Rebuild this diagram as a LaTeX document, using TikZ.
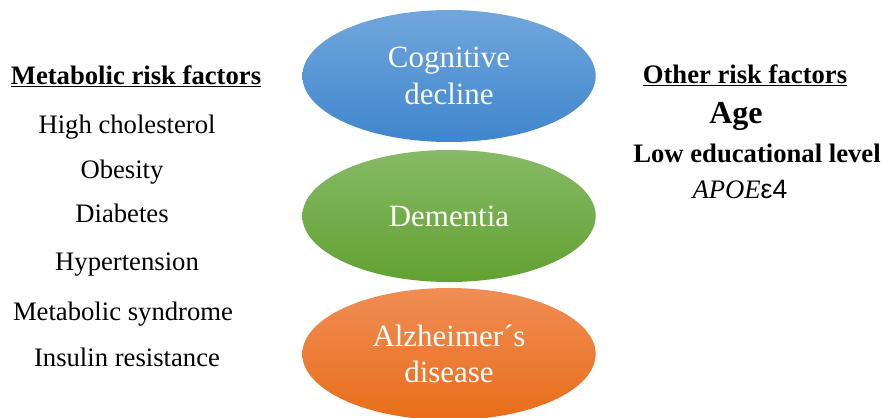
\documentclass[tikz,border=0pt]{standalone}
\usepackage{fontspec}
\setmainfont{Liberation Serif}
\newfontfamily\sansfont{Liberation Sans}
\usetikzlibrary{shapes.geometric}
\definecolor{blueTop}{HTML}{71A6DD}
\definecolor{blueBot}{HTML}{3F86CD}
\definecolor{greenTop}{HTML}{86BA66}
\definecolor{greenBot}{HTML}{62A131}
\definecolor{orangeTop}{HTML}{F08D55}
\definecolor{orangeBot}{HTML}{E86D19}

\begin{document}
\begin{tikzpicture}[x=0.75pt,y=-0.75pt,
    oval/.style={shape=ellipse,minimum width=220pt,minimum height=99pt,inner sep=0pt,
        text=white,align=center,font=\fontsize{23.2}{27.2}\selectfont},
    head/.style={anchor=base,font=\fontsize{20}{24}\selectfont\bfseries},
    item/.style={anchor=base,font=\fontsize{20}{24}\selectfont}]
\useasboundingbox (0,0) rectangle (883,418);

\node[oval,top color=blueTop,bottom color=blueBot] (cog) at (449,76) {Cognitive\\decline};
\node[oval,top color=greenTop,bottom color=greenBot] (dem) at (449,216) {Dementia};
\node[oval,top color=orangeTop,bottom color=orangeBot] (ad) at (449,354) {Alzheimer´s\\disease};

\node[head] (met) at (136,84) {\underline{Metabolic risk factors}};
\node[item] (hc) at (127,133) {High cholesterol};
\node[item] (ob) at (122,178) {Obesity};
\node[item] (db) at (122,222) {Diabetes};
\node[item] (ht) at (127,270) {Hypertension};
\node[item] (ms) at (123,320) {Metabolic syndrome};
\node[item] (ir) at (127,366) {Insulin resistance};

\node[head] (oth) at (745,83) {\underline{Other risk factors}};
\node[head,font=\fontsize{24}{28}\selectfont\bfseries] (age) at (736,123) {Age};
\node[head] (edu) at (757,162) {Low educational level};
\node[item] (apoe) at (740,198) {\textit{APOE}{\sansfont ε4}};
\end{tikzpicture}
\end{document}
